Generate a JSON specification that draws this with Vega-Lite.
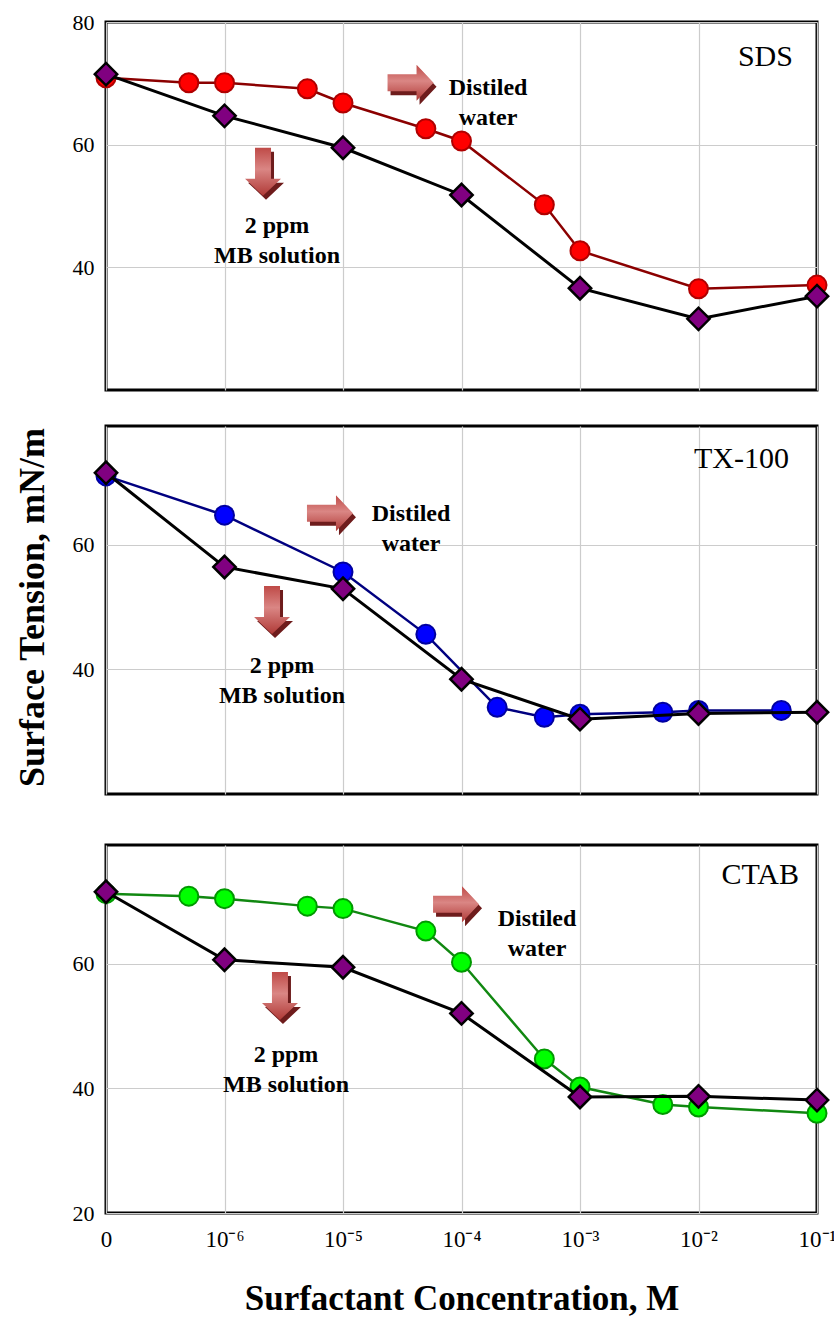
{
  "$schema": "https://vega.github.io/schema/vega-lite/v6.json",
  "padding": {"left": 12, "top": 9, "right": 0, "bottom": 0},
  "spacing": 32,
  "bounds": "full",
  "datasets": {
    "obs": [
      {"panel": "SDS", "series": "water", "x": -7, "st": 70.9},
      {"panel": "SDS", "series": "water", "x": -6.301, "st": 70.1},
      {"panel": "SDS", "series": "water", "x": -6, "st": 70.1},
      {"panel": "SDS", "series": "water", "x": -5.301, "st": 69.1},
      {"panel": "SDS", "series": "water", "x": -5, "st": 66.8},
      {"panel": "SDS", "series": "water", "x": -4.301, "st": 62.6},
      {"panel": "SDS", "series": "water", "x": -4, "st": 60.6},
      {"panel": "SDS", "series": "water", "x": -3.301, "st": 50.2},
      {"panel": "SDS", "series": "water", "x": -3, "st": 42.7},
      {"panel": "SDS", "series": "water", "x": -2, "st": 36.5},
      {"panel": "SDS", "series": "water", "x": -1, "st": 37.1},
      {"panel": "SDS", "series": "mb", "x": -7, "st": 71.5},
      {"panel": "SDS", "series": "mb", "x": -6, "st": 64.7},
      {"panel": "SDS", "series": "mb", "x": -5, "st": 59.5},
      {"panel": "SDS", "series": "mb", "x": -4, "st": 51.8},
      {"panel": "SDS", "series": "mb", "x": -3, "st": 36.6},
      {"panel": "SDS", "series": "mb", "x": -2, "st": 31.6},
      {"panel": "SDS", "series": "mb", "x": -1, "st": 35.3},
      {"panel": "TX", "series": "water", "x": -7, "st": 71.0},
      {"panel": "TX", "series": "water", "x": -6, "st": 64.7},
      {"panel": "TX", "series": "water", "x": -5, "st": 55.6},
      {"panel": "TX", "series": "water", "x": -4.301, "st": 45.6},
      {"panel": "TX", "series": "water", "x": -3.699, "st": 33.9},
      {"panel": "TX", "series": "water", "x": -3.301, "st": 32.3},
      {"panel": "TX", "series": "water", "x": -3, "st": 32.8},
      {"panel": "TX", "series": "water", "x": -2.301, "st": 33.1},
      {"panel": "TX", "series": "water", "x": -2, "st": 33.4},
      {"panel": "TX", "series": "water", "x": -1.301, "st": 33.4},
      {"panel": "TX", "series": "mb", "x": -7, "st": 71.5},
      {"panel": "TX", "series": "mb", "x": -6, "st": 56.4},
      {"panel": "TX", "series": "mb", "x": -5, "st": 52.9},
      {"panel": "TX", "series": "mb", "x": -4, "st": 38.4},
      {"panel": "TX", "series": "mb", "x": -3, "st": 32.0},
      {"panel": "TX", "series": "mb", "x": -2, "st": 32.9},
      {"panel": "TX", "series": "mb", "x": -1, "st": 33.1},
      {"panel": "CTAB", "series": "water", "x": -7, "st": 71.2},
      {"panel": "CTAB", "series": "water", "x": -6.301, "st": 70.8},
      {"panel": "CTAB", "series": "water", "x": -6, "st": 70.4},
      {"panel": "CTAB", "series": "water", "x": -5.301, "st": 69.2},
      {"panel": "CTAB", "series": "water", "x": -5, "st": 68.8},
      {"panel": "CTAB", "series": "water", "x": -4.301, "st": 65.2},
      {"panel": "CTAB", "series": "water", "x": -4, "st": 60.2},
      {"panel": "CTAB", "series": "water", "x": -3.301, "st": 44.7},
      {"panel": "CTAB", "series": "water", "x": -3, "st": 40.2},
      {"panel": "CTAB", "series": "water", "x": -2.301, "st": 37.4},
      {"panel": "CTAB", "series": "water", "x": -2, "st": 37.0},
      {"panel": "CTAB", "series": "water", "x": -1, "st": 36.0},
      {"panel": "CTAB", "series": "mb", "x": -7, "st": 71.5},
      {"panel": "CTAB", "series": "mb", "x": -6, "st": 60.6},
      {"panel": "CTAB", "series": "mb", "x": -5, "st": 59.4},
      {"panel": "CTAB", "series": "mb", "x": -4, "st": 52.0},
      {"panel": "CTAB", "series": "mb", "x": -3, "st": 38.6},
      {"panel": "CTAB", "series": "mb", "x": -2, "st": 38.7},
      {"panel": "CTAB", "series": "mb", "x": -1, "st": 38.1}
    ],
    "arrows": [
      {"panel": "SDS", "kind": "right", "x": -4.43, "st": 70.1},
      {"panel": "SDS", "kind": "down", "x": -5.675, "st": 55.6},
      {"panel": "TX", "kind": "right", "x": -5.11, "st": 65.0},
      {"panel": "TX", "kind": "down", "x": -5.599, "st": 49.5},
      {"panel": "CTAB", "kind": "right", "x": -4.046, "st": 69.5},
      {"panel": "CTAB", "kind": "down", "x": -5.532, "st": 54.8}
    ],
    "notes": [
      {"panel": "SDS", "label": "Distiled\nwater", "x": -3.776, "st": 69.2},
      {"panel": "SDS", "label": "2 ppm\nMB solution", "x": -5.557, "st": 46.7},
      {"panel": "TX", "label": "Distiled\nwater", "x": -4.426, "st": 64.9},
      {"panel": "TX", "label": "2 ppm\nMB solution", "x": -5.515, "st": 40.5},
      {"panel": "CTAB", "label": "Distiled\nwater", "x": -3.363, "st": 67.1},
      {"panel": "CTAB", "label": "2 ppm\nMB solution", "x": -5.481, "st": 45.3}
    ],
    "tags": [
      {"panel": "SDS", "label": "SDS", "x": -1.203, "st": 74.3},
      {"panel": "TX", "label": "TX-100", "x": -1.236, "st": 73.7},
      {"panel": "CTAB", "label": "CTAB", "x": -1.152, "st": 74.2}
    ]
  },
  "vconcat": [
    {
      "width": 711, "height": 368,
      "data": {"name": "obs"},
      "encoding": {
        "x": {"field": "x", "type": "quantitative", "scale": {"domain": [-7, -1], "nice": false, "zero": false},
              "axis": {"values": [-7, -6, -5, -4, -3, -2, -1], "labels": false, "ticks": false, "domain": false, "grid": true, "title": null}},
        "y": {"field": "st", "type": "quantitative", "scale": {"domain": [20, 80], "nice": false, "zero": false},
              "axis": {"values": [40, 60, 80], "ticks": false, "domain": false, "grid": true, "title": null, "labelFontSize": 22, "labelPadding": 12}}
      },
      "layer": [
        {"transform": [{"filter": "datum.panel === 'SDS' && datum.series === 'water'"}],
         "mark": {"type": "line", "color": "#8b0000", "strokeWidth": 2.5}},
        {"transform": [{"filter": "datum.panel === 'SDS' && datum.series === 'water'"}],
         "mark": {"type": "point", "shape": "circle", "filled": true, "fill": "#ff0000", "stroke": "#b00000", "strokeWidth": 2, "size": 361, "opacity": 1}},
        {"transform": [{"filter": "datum.panel === 'SDS' && datum.series === 'mb'"}],
         "mark": {"type": "line", "color": "#000000", "strokeWidth": 3}},
        {"transform": [{"filter": "datum.panel === 'SDS' && datum.series === 'mb'"}],
         "mark": {"type": "point", "shape": "diamond", "filled": true, "fill": "#800080", "stroke": "#000000", "strokeWidth": 2.5, "size": 500, "opacity": 1}},
        {"data": {"name": "arrows"}, "transform": [{"filter": "datum.panel === 'SDS'"}],
         "mark": {"type": "point", "filled": true, "fill": "#6e1c1c", "strokeWidth": 0, "size": 2500, "opacity": 1, "xOffset": 3, "yOffset": 4},
         "encoding": {"shape": {"field": "kind", "type": "nominal", "legend": null, "scale": {"domain": ["right", "down"], "range": ["M-0.92,-0.34L0.24,-0.34L0.24,-0.72L0.92,0L0.24,0.72L0.24,0.34L-0.92,0.34Z", "M-0.32,-0.96L0.32,-0.96L0.32,0.28L0.72,0.28L0,0.96L-0.72,0.28L-0.32,0.28Z"]}}}},
        {"data": {"name": "arrows"}, "transform": [{"filter": "datum.panel === 'SDS'"}],
         "mark": {"type": "point", "filled": true, "strokeWidth": 0, "size": 2500, "opacity": 1,
                  "fill": {"gradient": "linear", "x1": 0, "y1": 0, "x2": 0, "y2": 1, "stops": [{"offset": 0, "color": "#bf4a47"}, {"offset": 0.45, "color": "#da8684"}, {"offset": 1, "color": "#b03a37"}]}},
         "encoding": {"shape": {"field": "kind", "type": "nominal", "legend": null, "scale": {"domain": ["right", "down"], "range": ["M-0.92,-0.34L0.24,-0.34L0.24,-0.72L0.92,0L0.24,0.72L0.24,0.34L-0.92,0.34Z", "M-0.32,-0.96L0.32,-0.96L0.32,0.28L0.72,0.28L0,0.96L-0.72,0.28L-0.32,0.28Z"]}}}},
        {"data": {"name": "notes"}, "transform": [{"filter": "datum.panel === 'SDS'"}],
         "mark": {"type": "text", "font": "Liberation Serif", "fontWeight": "bold", "fontSize": 24, "lineBreak": "\n", "lineHeight": 30, "align": "center", "baseline": "middle", "color": "#000000"},
         "encoding": {"text": {"field": "label"}}},
        {"data": {"name": "tags"}, "transform": [{"filter": "datum.panel === 'SDS'"}],
         "mark": {"type": "text", "font": "Liberation Serif", "fontSize": 30, "align": "right", "baseline": "middle", "color": "#000000"},
         "encoding": {"text": {"field": "label"}}}
      ]
    },
    {
      "width": 711, "height": 368,
      "data": {"name": "obs"},
      "encoding": {
        "x": {"field": "x", "type": "quantitative", "scale": {"domain": [-7, -1], "nice": false, "zero": false},
              "axis": {"values": [-7, -6, -5, -4, -3, -2, -1], "labels": true, "labelExpr": "' '", "labelFontSize": 15, "labelPadding": 0, "ticks": false, "domain": false, "grid": true, "title": null}},
        "y": {"field": "st", "type": "quantitative", "scale": {"domain": [20, 79], "nice": false, "zero": false},
              "axis": {"values": [40, 60], "ticks": false, "domain": false, "grid": true, "labelFontSize": 22, "labelPadding": 12,
                       "title": "Surface Tension, mN/m", "titleFontSize": 36, "titleFontWeight": "bold", "titleX": -74, "titleY": 181, "titleAngle": 270, "titleAlign": "center", "titleBaseline": "middle"}}
      },
      "layer": [
        {"transform": [{"filter": "datum.panel === 'TX' && datum.series === 'water'"}],
         "mark": {"type": "line", "color": "#000080", "strokeWidth": 2.5}},
        {"transform": [{"filter": "datum.panel === 'TX' && datum.series === 'water'"}],
         "mark": {"type": "point", "shape": "circle", "filled": true, "fill": "#0000ff", "stroke": "#0000a0", "strokeWidth": 2, "size": 361, "opacity": 1}},
        {"transform": [{"filter": "datum.panel === 'TX' && datum.series === 'mb'"}],
         "mark": {"type": "line", "color": "#000000", "strokeWidth": 3}},
        {"transform": [{"filter": "datum.panel === 'TX' && datum.series === 'mb'"}],
         "mark": {"type": "point", "shape": "diamond", "filled": true, "fill": "#800080", "stroke": "#000000", "strokeWidth": 2.5, "size": 500, "opacity": 1}},
        {"data": {"name": "arrows"}, "transform": [{"filter": "datum.panel === 'TX'"}],
         "mark": {"type": "point", "filled": true, "fill": "#6e1c1c", "strokeWidth": 0, "size": 2500, "opacity": 1, "xOffset": 3, "yOffset": 4},
         "encoding": {"shape": {"field": "kind", "type": "nominal", "legend": null, "scale": {"domain": ["right", "down"], "range": ["M-0.92,-0.34L0.24,-0.34L0.24,-0.72L0.92,0L0.24,0.72L0.24,0.34L-0.92,0.34Z", "M-0.32,-0.96L0.32,-0.96L0.32,0.28L0.72,0.28L0,0.96L-0.72,0.28L-0.32,0.28Z"]}}}},
        {"data": {"name": "arrows"}, "transform": [{"filter": "datum.panel === 'TX'"}],
         "mark": {"type": "point", "filled": true, "strokeWidth": 0, "size": 2500, "opacity": 1,
                  "fill": {"gradient": "linear", "x1": 0, "y1": 0, "x2": 0, "y2": 1, "stops": [{"offset": 0, "color": "#bf4a47"}, {"offset": 0.45, "color": "#da8684"}, {"offset": 1, "color": "#b03a37"}]}},
         "encoding": {"shape": {"field": "kind", "type": "nominal", "legend": null, "scale": {"domain": ["right", "down"], "range": ["M-0.92,-0.34L0.24,-0.34L0.24,-0.72L0.92,0L0.24,0.72L0.24,0.34L-0.92,0.34Z", "M-0.32,-0.96L0.32,-0.96L0.32,0.28L0.72,0.28L0,0.96L-0.72,0.28L-0.32,0.28Z"]}}}},
        {"data": {"name": "notes"}, "transform": [{"filter": "datum.panel === 'TX'"}],
         "mark": {"type": "text", "font": "Liberation Serif", "fontWeight": "bold", "fontSize": 24, "lineBreak": "\n", "lineHeight": 30, "align": "center", "baseline": "middle", "color": "#000000"},
         "encoding": {"text": {"field": "label"}}},
        {"data": {"name": "tags"}, "transform": [{"filter": "datum.panel === 'TX'"}],
         "mark": {"type": "text", "font": "Liberation Serif", "fontSize": 30, "align": "right", "baseline": "middle", "color": "#000000"},
         "encoding": {"text": {"field": "label"}}}
      ]
    },
    {
      "width": 711, "height": 368,
      "data": {"name": "obs"},
      "encoding": {
        "x": {"field": "x", "type": "quantitative", "scale": {"domain": [-7, -1], "nice": false, "zero": false},
              "axis": {"values": [-7, -6, -5, -4, -3, -2, -1], "ticks": false, "domain": false, "grid": true,
                       "labelExpr": "datum.value === -7 ? '0' : datum.value === -6 ? '10⁻⁶' : datum.value === -5 ? '10⁻⁵' : datum.value === -4 ? '10⁻⁴' : datum.value === -3 ? '10⁻³' : datum.value === -2 ? '10⁻²' : '10⁻¹'",
                       "labelFontSize": 23, "labelPadding": 15, "labelFlush": false, "labelOverlap": false,
                       "title": "Surfactant Concentration, M", "titleFontSize": 35, "titleFontWeight": "bold", "titlePadding": 30}},
        "y": {"field": "st", "type": "quantitative", "scale": {"domain": [20, 79], "nice": false, "zero": false},
              "axis": {"values": [20, 40, 60], "ticks": false, "domain": false, "grid": true, "title": null, "labelFontSize": 22, "labelPadding": 12}}
      },
      "layer": [
        {"transform": [{"filter": "datum.panel === 'CTAB' && datum.series === 'water'"}],
         "mark": {"type": "line", "color": "#118811", "strokeWidth": 2.5}},
        {"transform": [{"filter": "datum.panel === 'CTAB' && datum.series === 'water'"}],
         "mark": {"type": "point", "shape": "circle", "filled": true, "fill": "#00ff00", "stroke": "#009900", "strokeWidth": 2, "size": 361, "opacity": 1}},
        {"transform": [{"filter": "datum.panel === 'CTAB' && datum.series === 'mb'"}],
         "mark": {"type": "line", "color": "#000000", "strokeWidth": 3}},
        {"transform": [{"filter": "datum.panel === 'CTAB' && datum.series === 'mb'"}],
         "mark": {"type": "point", "shape": "diamond", "filled": true, "fill": "#800080", "stroke": "#000000", "strokeWidth": 2.5, "size": 500, "opacity": 1}},
        {"data": {"name": "arrows"}, "transform": [{"filter": "datum.panel === 'CTAB'"}],
         "mark": {"type": "point", "filled": true, "fill": "#6e1c1c", "strokeWidth": 0, "size": 2500, "opacity": 1, "xOffset": 3, "yOffset": 4},
         "encoding": {"shape": {"field": "kind", "type": "nominal", "legend": null, "scale": {"domain": ["right", "down"], "range": ["M-0.92,-0.34L0.24,-0.34L0.24,-0.72L0.92,0L0.24,0.72L0.24,0.34L-0.92,0.34Z", "M-0.32,-0.96L0.32,-0.96L0.32,0.28L0.72,0.28L0,0.96L-0.72,0.28L-0.32,0.28Z"]}}}},
        {"data": {"name": "arrows"}, "transform": [{"filter": "datum.panel === 'CTAB'"}],
         "mark": {"type": "point", "filled": true, "strokeWidth": 0, "size": 2500, "opacity": 1,
                  "fill": {"gradient": "linear", "x1": 0, "y1": 0, "x2": 0, "y2": 1, "stops": [{"offset": 0, "color": "#bf4a47"}, {"offset": 0.45, "color": "#da8684"}, {"offset": 1, "color": "#b03a37"}]}},
         "encoding": {"shape": {"field": "kind", "type": "nominal", "legend": null, "scale": {"domain": ["right", "down"], "range": ["M-0.92,-0.34L0.24,-0.34L0.24,-0.72L0.92,0L0.24,0.72L0.24,0.34L-0.92,0.34Z", "M-0.32,-0.96L0.32,-0.96L0.32,0.28L0.72,0.28L0,0.96L-0.72,0.28L-0.32,0.28Z"]}}}},
        {"data": {"name": "notes"}, "transform": [{"filter": "datum.panel === 'CTAB'"}],
         "mark": {"type": "text", "font": "Liberation Serif", "fontWeight": "bold", "fontSize": 24, "lineBreak": "\n", "lineHeight": 30, "align": "center", "baseline": "middle", "color": "#000000"},
         "encoding": {"text": {"field": "label"}}},
        {"data": {"name": "tags"}, "transform": [{"filter": "datum.panel === 'CTAB'"}],
         "mark": {"type": "text", "font": "Liberation Serif", "fontSize": 30, "align": "right", "baseline": "middle", "color": "#000000"},
         "encoding": {"text": {"field": "label"}}}
      ]
    }
  ],
  "config": {
    "view": {"stroke": "#000000", "strokeWidth": 3},
    "font": "Liberation Serif",
    "axis": {"gridColor": "#cccccc", "gridWidth": 1.2, "labelColor": "#000000", "titleColor": "#000000", "labelFont": "Liberation Serif", "titleFont": "Liberation Serif"}
  }
}
